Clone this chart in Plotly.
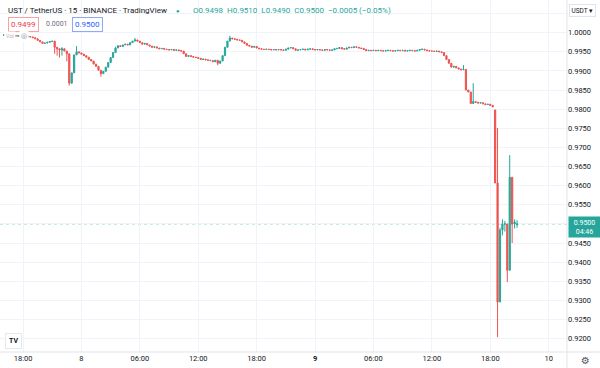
import plotly.graph_objects as go
import pandas as pd

# ---- data (prices in 1e-4 units, 15-minute bars starting 2022-05-07 16:00) ----
start_time = "2022-05-07 16:00"
closes = [
    9994, 9993, 9994, 9992, 9993, 9991, 9992, 9990, 9991, 9989, 9990,
    9989,
    9987, 9984, 9980, 9976, 9972, 9973, 9975, 9977, 9978,
    9962, 9958, 9955, 9958, 9952, 9945, 9868,
    9895, 9942, 9950, 9947,
    9944, 9940, 9936, 9930, 9926, 9918, 9912, 9902, 9893,
    9899, 9910, 9922, 9935, 9948, 9960, 9966, 9964, 9968, 9970, 9968, 9974, 9978, 9981, 9978,
    9974, 9970, 9972, 9968, 9965, 9962, 9963, 9960, 9958, 9959,
    9957, 9956, 9955, 9956, 9954, 9955, 9953, 9952, 9945, 9938,
    9940, 9938, 9936, 9935, 9933, 9930, 9931, 9929, 9928, 9927,
    9924, 9928, 9920, 9926, 9940, 9962, 9978, 9986, 9984,
    9983, 9981, 9980, 9976, 9972, 9967, 9965, 9962, 9964, 9960,
    9958, 9957, 9956, 9957, 9956, 9955, 9956, 9955, 9956, 9955,
    9954, 9957, 9960, 9961, 9958, 9954, 9955, 9956, 9957, 9955,
    9957, 9958, 9956, 9955, 9956,
    9955, 9954, 9956, 9955, 9954, 9955, 9958, 9959, 9961, 9958,
    9957, 9960, 9962, 9961, 9963, 9962, 9960, 9959, 9956, 9953,
    9954, 9953, 9954, 9953, 9954, 9953, 9952, 9953, 9954, 9953,
    9952, 9953, 9954, 9953, 9954, 9952, 9953, 9954, 9953, 9952,
    9954, 9956, 9957, 9955, 9953, 9952, 9952, 9951, 9952,
    9950, 9948, 9940, 9930, 9920, 9910, 9912, 9908, 9905, 9903,
    9904, 9850, 9845, 9815, 9820, 9818, 9816, 9817, 9814, 9812,
    9813, 9810, 9806,
    9607, 9296, 9484, 9500, 9500, 9379, 9622, 9500, 9505, 9500,
]
open_overrides = {0: 9994, 202: 9798, 211: 9498}
high_overrides = {24: 9962, 30: 9965, 46: 9963, 54: 9986, 93: 9992, 189: 9915,
                  193: 9868, 203: 9751, 204: 9490, 205: 9512, 206: 9508,
                  208: 9680, 210: 9512, 211: 9510}
low_overrides = {21: 9945, 22: 9940, 23: 9935, 24: 9940, 26: 9925, 27: 9862,
                 40: 9885, 88: 9915, 203: 9204, 205: 9470, 206: 9480,
                 207: 9348, 209: 9450, 210: 9488, 211: 9490}

y_ticks = [0.9200, 0.9250, 0.9300, 0.9350, 0.9400, 0.9450, 0.9500, 0.9550,
           0.9600, 0.9650, 0.9700, 0.9750, 0.9800, 0.9850, 0.9900, 0.9950,
           1.0000, 1.0050]
x_tick_times = ["2022-05-07 18:00", "2022-05-08 00:00", "2022-05-08 06:00",
                "2022-05-08 12:00", "2022-05-08 18:00", "2022-05-09 00:00",
                "2022-05-09 06:00", "2022-05-09 12:00", "2022-05-09 18:00",
                "2022-05-10 00:00"]
x_tick_text = ["18:00", "8", "06:00", "12:00", "18:00", "<b>9</b>", "06:00",
               "12:00", "18:00", "10"]
last_price = 0.9500

# ---- build OHLC ----
n = len(closes)
times = pd.date_range(start_time, periods=n, freq="15min")
o, h, l, c = [], [], [], []
for i in range(n):
    op = open_overrides.get(i, closes[i - 1] if i > 0 else closes[0])
    cl = closes[i]
    o.append(op / 10000)
    c.append(cl / 10000)
    h.append(high_overrides.get(i, max(op, cl)) / 10000)
    l.append(low_overrides.get(i, min(op, cl)) / 10000)

UP = "#26a69a"
DOWN = "#ef5350"
TXT = "#131722"
GRID = "#f0f3fa"
BORDER = "#e0e3eb"

fig = go.Figure(go.Candlestick(
    x=times, open=o, high=h, low=l, close=c,
    increasing=dict(line=dict(color=UP, width=1), fillcolor=UP),
    decreasing=dict(line=dict(color=DOWN, width=1), fillcolor=DOWN),
    whiskerwidth=0, hoverinfo="skip",
))

W, H = 600, 368
L, R, T, B = 0, 33, 0, 16
PW, PH = W - L - R, H - T - B


def px(x):
    return (x - L) / PW


def py(y):
    return (H - B - y) / PH


def fmt_tick(v):
    if v > 1.004 or abs(v - last_price) < 1e-6:
        return ""
    return f"{v:.4f}"


fig.update_layout(
    width=W, height=H,
    margin=dict(l=L, r=R, t=T, b=B),
    paper_bgcolor="white", plot_bgcolor="white",
    showlegend=False,
    font=dict(family="Roboto", color=TXT, size=8),
    xaxis=dict(
        type="date",
        range=["2022-05-07 15:38", "2022-05-10 01:53"],
        rangeslider=dict(visible=False),
        tickvals=x_tick_times, ticktext=x_tick_text,
        showgrid=True, gridcolor=GRID, gridwidth=1,
        zeroline=False, showline=False, ticks="",
        tickfont=dict(size=7.5, color=TXT),
    ),
    yaxis=dict(
        side="right",
        range=[0.91652, 1.00855],
        tickvals=y_ticks,
        ticktext=[fmt_tick(v) for v in y_ticks],
        showgrid=True, gridcolor=GRID, gridwidth=1,
        zeroline=False, showline=False, ticks="",
        tickfont=dict(size=7.5, color=TXT),
    ),
)

# borders of axes panes
fig.add_shape(type="line", xref="paper", yref="paper", x0=0, x1=px(W), y0=0, y1=0,
              line=dict(color=BORDER, width=1))
fig.add_shape(type="line", xref="paper", yref="paper", x0=1, x1=1, y0=py(H), y1=1,
              line=dict(color=BORDER, width=1))
# last price line
fig.add_shape(type="line", xref="paper", yref="y", x0=0, x1=1, y0=last_price, y1=last_price,
              line=dict(color="rgba(38,166,154,0.55)", width=1, dash="dot"), layer="below")

ann = []
ann.append(dict(x=px(6), y=py(10), xref="paper", yref="paper", xanchor="left", yanchor="middle",
                text="UST / TetherUS · 15 · BINANCE · TradingView", showarrow=False,
                font=dict(size=8, color=TXT)))
ann.append(dict(x=px(178), y=py(10), xref="paper", yref="paper", xanchor="center", yanchor="middle",
                text="●", showarrow=False, font=dict(size=6, color=UP)))
ann.append(dict(x=px(191), y=py(10), xref="paper", yref="paper", xanchor="left", yanchor="middle",
                text="O0.9498  H0.9510  L0.9490  C0.9500  −0.0005 (−0.05%)", showarrow=False,
                font=dict(size=8, color=UP)))
ann.append(dict(x=px(23), y=py(24.5), xref="paper", yref="paper", xanchor="center", yanchor="middle",
                text="0.9499", showarrow=False, font=dict(size=8, color="#f23645"),
                bordercolor="#f7a1a9", borderwidth=1, borderpad=2, bgcolor="white"))
ann.append(dict(x=px(57), y=py(24.5), xref="paper", yref="paper", xanchor="center", yanchor="middle",
                text="0.0001", showarrow=False, font=dict(size=7, color="#6a6d78")))
ann.append(dict(x=px(87.5), y=py(24.5), xref="paper", yref="paper", xanchor="center", yanchor="middle",
                text="0.9500", showarrow=False, font=dict(size=8, color="#2962ff"),
                bordercolor="#90a9f7", borderwidth=1, borderpad=2, bgcolor="white"))
ann.append(dict(x=px(4), y=py(36), xref="paper", yref="paper", xanchor="left", yanchor="middle",
                text="Vol", showarrow=False, font=dict(size=5.5, color="#b2b5be"),
                bgcolor="white"))
ann.append(dict(x=px(24), y=py(36), xref="paper", yref="paper", xanchor="center", yanchor="middle",
                text="◎", showarrow=False, font=dict(size=7, color="#787b86"), bgcolor="white"))
ann.append(dict(x=px(582), y=py(10), xref="paper", yref="paper", xanchor="center", yanchor="middle",
                text="USDT ▾", showarrow=False, font=dict(size=6.5, color=TXT),
                bordercolor=BORDER, borderwidth=1, borderpad=1.5, bgcolor="white"))
ann.append(dict(x=px(584), y=py(226.5), xref="paper", yref="paper", xanchor="center", yanchor="middle",
                text="0.9500<br>04:46", showarrow=False, font=dict(size=7, color="white"),
                bgcolor=UP, borderpad=1.5, width=28, align="center"))
ann.append(dict(x=px(585), y=py(360), xref="paper", yref="paper", xanchor="center", yanchor="middle",
                text="⚙", showarrow=False, font=dict(size=10, color="#50535e",
                                                     family="DejaVu Sans")))
ann.append(dict(x=px(13), y=py(341), xref="paper", yref="paper", xanchor="center", yanchor="middle",
                text="<b>TV</b>", showarrow=False, font=dict(size=7, color=TXT),
                bgcolor="white", bordercolor="#e6e8ee", borderwidth=1, borderpad=3))
fig.update_layout(annotations=ann)

fig.write_html("out.html")
